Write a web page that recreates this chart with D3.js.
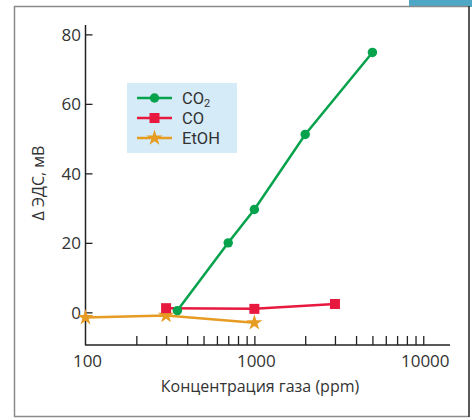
<!DOCTYPE html>
<html><head><meta charset="utf-8">
<script src="https://cdn.jsdelivr.net/npm/d3@7"></script>
<style>
html,body{margin:0;padding:0;background:#fff;}
svg{display:block;}
text{font-family:"Open Sans",sans-serif;fill:#333;}
text.leg{font-family:Roboto,sans-serif;}
</style></head>
<body>
<svg id="c" width="475" height="420"></svg>
<script>
// ---- data ----
const co2X = [350, 700, 1000, 2000, 5000];
const co2Y = [0.5, 20, 29.6, 51.2, 74.8];
const coX = [300, 1000, 3000];
const coY = [1.2, 1.0, 2.4];
const etohX = [100, 300, 1000];
const etohY = [-1.5, -0.9, -3.0];
const yTicks = [0, 20, 40, 60, 80];
const xLabelTicks = [100, 1000, 10000];
const seriesNames = ["CO2", "CO", "EtOH"];

const svg = d3.select("#c");

// decorative frame elements
svg.append("rect").attr("x", 409).attr("y", 0).attr("width", 63).attr("height", 7).attr("fill", "#4fa7c6");
svg.append("line").attr("x1", 14).attr("x2", 469).attr("y1", 6.5).attr("y2", 6.5).attr("stroke", "#8a8a8a").attr("stroke-width", 1.5);
svg.append("line").attr("x1", 14.5).attr("x2", 14.5).attr("y1", 6).attr("y2", 417).attr("stroke", "#8a8a8a").attr("stroke-width", 1.5);
svg.append("line").attr("x1", 14).attr("x2", 469).attr("y1", 416.5).attr("y2", 416.5).attr("stroke", "#8a8a8a").attr("stroke-width", 1.5);
svg.append("line").attr("x1", 469).attr("x2", 469).attr("y1", 6).attr("y2", 417).attr("stroke", "#222").attr("stroke-width", 1.5);

const x = d3.scaleLog().domain([100, 14400]).range([85.5, 450]);
const y = d3.scaleLinear().domain([-9.4, 82.7]).range([345, 25]);

const axisColor = "#222";

// y axis
const gy = svg.append("g").attr("transform", "translate(85.5,0)");
gy.call(d3.axisRight(y).tickValues(yTicks).tickSize(7).tickFormat(""));
gy.select(".domain").remove();
gy.selectAll(".tick line").attr("stroke", axisColor).attr("stroke-width", 1.3);
gy.append("line").attr("y1", 25).attr("y2", 345).attr("stroke", axisColor).attr("stroke-width", 1.5);
svg.selectAll(".ylab").data(yTicks).enter().append("text")
  .attr("x", 81).attr("y", d => y(d)).attr("text-anchor", "end")
  .attr("dominant-baseline", "central").attr("font-size", 17).text(d => d);

// x axis
const minor = [];
for (let d = 100; d <= 10000; d *= 10) for (let k = 1; k < 10; k++) { const v = d * k; if (v > 100 && v <= 10000) minor.push(v); }
const gx = svg.append("g").attr("transform", "translate(0,345)");
gx.call(d3.axisTop(x).tickValues(minor).tickSize(9).tickFormat(""));
gx.select(".domain").remove();
gx.selectAll(".tick line").attr("stroke", axisColor).attr("stroke-width", 1.3);
gx.append("line").attr("x1", 85).attr("x2", 450).attr("stroke", axisColor).attr("stroke-width", 1.5);
svg.selectAll(".xlab").data(xLabelTicks).enter().append("text")
  .attr("x", d => x(d) + 2).attr("y", 367).attr("text-anchor", "middle")
  .attr("font-size", 17).text(d => d);

// titles
svg.append("text").attr("x", 260).attr("y", 392).attr("text-anchor", "middle")
  .attr("font-size", 16).text("Концентрация газа (ppm)");
svg.append("text").attr("transform", "translate(44,183) rotate(-90)").attr("text-anchor", "middle")
  .attr("font-size", 16).text("Δ ЭДС, мВ");

// series
const colors = {CO2: "#07a24c", CO: "#e8193f", EtOH: "#e69b22"};
const line = d3.line().x(d => x(d[0])).y(d => y(d[1]));
const series = [
  {name: "EtOH", pts: d3.zip(etohX, etohY), sym: d3.symbolStar, size: 80},
  {name: "CO", pts: d3.zip(coX, coY), sym: d3.symbolSquare, size: 100},
  {name: "CO2", pts: d3.zip(co2X, co2Y), sym: d3.symbolCircle, size: 70},
];
series.forEach(s => {
  svg.append("path").attr("d", line(s.pts)).attr("fill", "none")
    .attr("stroke", colors[s.name]).attr("stroke-width", 2.5);
});
series.forEach(s => {
  svg.selectAll(null).data(s.pts).enter().append("path")
    .attr("transform", d => `translate(${x(d[0])},${y(d[1])})`)
    .attr("d", d3.symbol().type(s.sym).size(s.size)).attr("fill", colors[s.name]);
});

// legend
const lg = svg.append("g");
lg.append("rect").attr("x", 127).attr("y", 83).attr("width", 110).attr("height", 70).attr("fill", "#d5ebf8");
const legSym = {CO2: [d3.symbolCircle, 70], CO: [d3.symbolSquare, 100], EtOH: [d3.symbolStar, 80]};
seriesNames.forEach((n, i) => {
  const yy = 98 + i * 20;
  lg.append("line").attr("x1", 137).attr("x2", 172).attr("y1", yy).attr("y2", yy)
    .attr("stroke", colors[n]).attr("stroke-width", 2.5);
  lg.append("path").attr("transform", `translate(154.5,${yy})`)
    .attr("d", d3.symbol().type(legSym[n][0]).size(legSym[n][1])).attr("fill", colors[n]);
  const t = lg.append("text").attr("class", "leg").attr("x", 182).attr("y", yy + 6).attr("font-size", 16.5);
  if (n === "CO2") {
    t.append("tspan").text("CO");
    t.append("tspan").attr("font-size", 11).attr("dy", 3).text("2");
  } else t.text(n);
});
</script>
</body></html>
